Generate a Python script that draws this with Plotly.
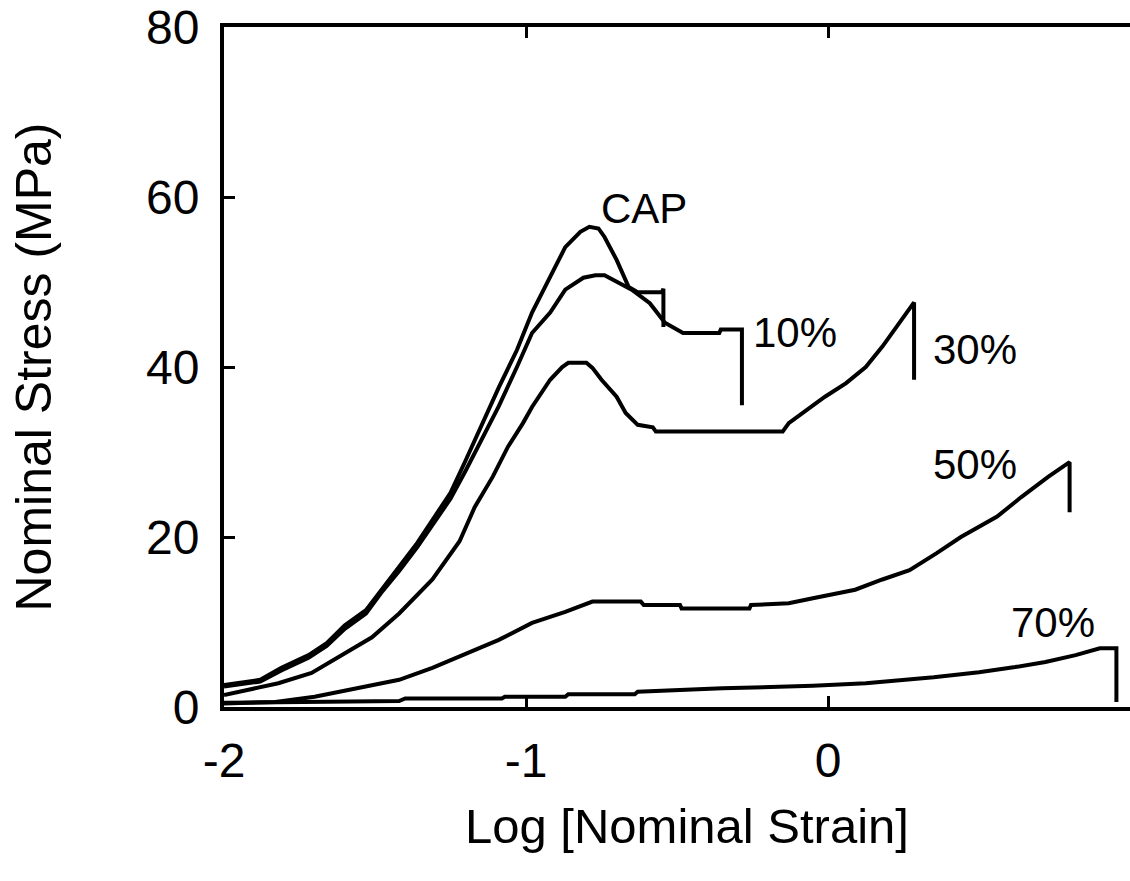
import plotly.graph_objects as go

# ---- data ----
cap_x = [-2.0, -1.88, -1.81, -1.72, -1.66, -1.60, -1.53, -1.48, -1.42, -1.36, -1.31, -1.25, -1.20, -1.15,
         -1.09, -1.03, -0.98, -0.92, -0.87, -0.82, -0.79, -0.76, -0.74, -0.70, -0.66, -0.63, -0.55, -0.545, -0.545]
cap_y = [2.6, 3.2, 4.6, 6.1, 7.5, 9.6, 11.4, 13.8, 16.5, 19.3, 22.0, 25.2, 29.0, 33.0,
         37.6, 42.0, 46.4, 50.6, 54.1, 55.9, 56.5, 56.3, 55.3, 52.6, 49.4, 48.8, 48.8, 49.2, 44.7]

ten_x = [-2.0, -1.88, -1.81, -1.72, -1.66, -1.60, -1.53, -1.48, -1.42, -1.36, -1.31, -1.25, -1.20, -1.16,
         -1.09, -1.03, -0.98, -0.92, -0.87, -0.81, -0.77, -0.74, -0.71, -0.65, -0.59, -0.54, -0.48, -0.36,
         -0.355, -0.285, -0.285]
ten_y = [2.4, 3.0, 4.3, 5.8, 7.2, 9.2, 11.0, 13.4, 16.0, 18.8, 21.4, 24.5, 27.8, 30.6,
         35.4, 40.0, 44.0, 46.4, 49.1, 50.5, 50.8, 50.8, 50.2, 49.1, 47.5, 45.2, 44.0, 44.0,
         44.4, 44.4, 35.5]

thirty_x = [-2.0, -1.82, -1.71, -1.60, -1.51, -1.42, -1.31, -1.22, -1.17, -1.11, -1.06, -1.01, -0.98, -0.92,
            -0.88, -0.86, -0.80, -0.78, -0.75, -0.70, -0.67, -0.63, -0.58, -0.57, -0.43, -0.15, -0.13, -0.07,
            -0.01, 0.06, 0.125, 0.18, 0.235, 0.285, 0.285]
thirty_y = [1.4, 2.8, 4.0, 6.3, 8.2, 11.0, 15.0, 19.5, 23.5, 27.1, 30.6, 33.4, 35.3, 38.5,
            40.0, 40.5, 40.5, 39.9, 38.5, 36.5, 34.6, 33.2, 32.9, 32.4, 32.4, 32.4, 33.4, 34.9,
            36.5, 38.1, 40.0, 42.4, 45.2, 47.6, 38.5]

fifty_x = [-2.0, -1.83, -1.70, -1.53, -1.42, -1.31, -1.20, -1.09, -0.98, -0.87, -0.78, -0.62, -0.61, -0.49,
           -0.485, -0.26, -0.255, -0.13, -0.05, 0.0, 0.09, 0.18, 0.27, 0.36, 0.44, 0.56, 0.64, 0.73, 0.79,
           0.80, 0.80]
fifty_y = [0.4, 0.6, 1.2, 2.4, 3.2, 4.6, 6.3, 7.9, 9.9, 11.2, 12.4, 12.4, 12.0, 12.0,
           11.6, 11.6, 12.0, 12.2, 12.8, 13.2, 13.8, 15.0, 16.1, 18.1, 20.0, 22.4, 24.7, 27.1, 28.5,
           28.8, 22.9]

seventy_x = [-2.0, -1.42, -1.40, -1.08, -1.07, -0.87, -0.86, -0.64, -0.63, -0.35, -0.05, 0.125, 0.35,
             0.5, 0.62, 0.72, 0.82, 0.90, 0.955, 0.955]
seventy_y = [0.5, 0.7, 1.0, 1.0, 1.2, 1.2, 1.5, 1.5, 1.8, 2.2, 2.5, 2.8, 3.5,
             4.1, 4.7, 5.3, 6.1, 6.9, 6.9, 0.6]

labels = ["CAP", "10%", "30%", "50%", "70%"]
label_x = [-0.61, -0.11, 0.487, 0.487, 0.745]
label_y = [58.6, 44.1, 42.1, 28.5, 10.0]

x_ticks = [-2, -1, 0, 1]
y_ticks = [0, 20, 40, 60, 80]
x_title = "Log [Nominal Strain]"
y_title = "Nominal Stress (MPa)"

FONT = "Liberation Sans, Arial, Helvetica, sans-serif"

W, H = 1130, 881
L, R, T, B = 224, 0, 27, 174

fig = go.Figure()
for xs, ys in [(cap_x, cap_y), (ten_x, ten_y), (thirty_x, thirty_y), (fifty_x, fifty_y), (seventy_x, seventy_y)]:
    fig.add_trace(go.Scatter(x=xs, y=ys, mode="lines",
                             line=dict(color="black", width=4), showlegend=False,
                             cliponaxis=False))

for t, lx, ly in zip(labels, label_x, label_y):
    fig.add_annotation(x=lx, y=ly, xref="x", yref="y", text=t, showarrow=False,
                       font=dict(family=FONT, size=42, color="black"),
                       xanchor="center", yanchor="middle")

# x-axis title placed as paper-referenced text
plot_w, plot_h = W - L - R, H - T - B
fig.add_annotation(x=(687 - L) / plot_w, y=1 - (826 - T) / plot_h, xref="paper", yref="paper",
                   text=x_title, showarrow=False, xanchor="center", yanchor="middle",
                   font=dict(family=FONT, size=49, color="black"))

fig.update_layout(
    width=W, height=H,
    margin=dict(l=L, r=R, t=T, b=B),
    paper_bgcolor="white", plot_bgcolor="white",
    font=dict(family=FONT, color="black"),
    showlegend=False,
    yaxis2=dict(overlaying="y", side="right", range=[0, 80], tickvals=y_ticks,
                ticks="inside", ticklen=9, tickwidth=3, tickcolor="black",
                showticklabels=False, showline=False, showgrid=False, zeroline=False),
)
fig.update_xaxes(
    range=[-2, 1], tickvals=x_ticks, ticktext=[str(v) for v in x_ticks],
    ticks="inside", ticklen=11, tickwidth=3, tickcolor="black",
    showline=True, linewidth=4, linecolor="black", mirror="ticks",
    showgrid=False, zeroline=False,
    tickfont=dict(family=FONT, size=48, color="black"),
    ticklabelstandoff=8, ticklabeloverflow="hide past div",
)
fig.update_yaxes(
    selector=dict(overlaying=None),
    range=[0, 80], tickvals=y_ticks, ticktext=[str(v) for v in y_ticks],
    ticks="inside", ticklen=11, tickwidth=3, tickcolor="black",
    showline=True, linewidth=4, linecolor="black", mirror=False,
    showgrid=False, zeroline=False,
    tickfont=dict(family=FONT, size=48, color="black"),
    ticklabelstandoff=11, ticklabeloverflow="allow",
    title=dict(text=y_title, font=dict(family=FONT, size=50, color="black"), standoff=80),
)

fig.write_html("out.html", config={"displayModeBar": False},
               post_script="document.body.style.margin='0px';")
